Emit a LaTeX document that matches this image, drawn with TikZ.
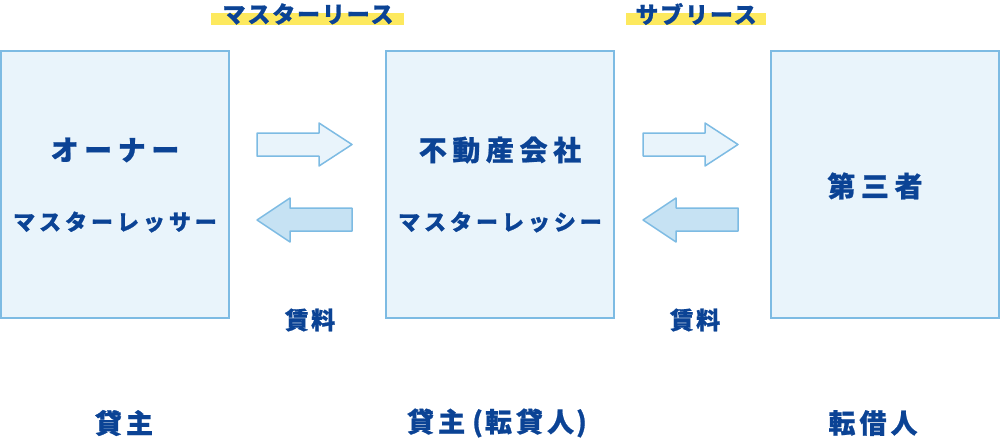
\documentclass[tikz,border=0pt]{standalone}
\usepackage{fontspec}
\setmainfont{Noto Sans CJK JP}
\definecolor{boxline}{HTML}{7DBBE3}
\definecolor{boxfill}{HTML}{E9F4FB}
\definecolor{arrowdark}{HTML}{C6E2F3}
\definecolor{txt}{HTML}{0B4395}
\definecolor{hl}{HTML}{FDE95E}
\begin{document}
\begin{tikzpicture}[x=1pt,y=-1pt,
  party/.style={draw=boxline,line width=1.5pt,fill=boxfill,minimum width=228pt,minimum height=267pt,inner sep=0pt},
  big/.style={text=txt,font=\fontsize{28}{32}\selectfont\bfseries\addfontfeature{LetterSpace=20,FakeBold=0.8}},
  mid/.style={text=txt,font=\fontsize{22}{26}\selectfont\bfseries\addfontfeature{LetterSpace=18,FakeBold=0.8}},
  toplab/.style={text=txt,font=\fontsize{23}{27}\selectfont\bfseries\addfontfeature{LetterSpace=8,FakeBold=0.8}},
  small/.style={text=txt,font=\fontsize{24}{28}\selectfont\bfseries\addfontfeature{LetterSpace=10,FakeBold=0.8}},
  bottom/.style={text=txt,font=\fontsize{27}{31}\selectfont\bfseries\addfontfeature{LetterSpace=15,FakeBold=0.8}},
  arr/.style={draw=boxline,line width=1.5pt,line join=round}
]
\useasboundingbox (0,0) rectangle (1000,440);
% boxes
\node[party] (owner) at (115,184.5) {};
\node[party] (company) at (500,184.5) {};
\node[party] (third) at (885,184.5) {};
% box texts
\node[big] (ownerA) at (115,150) {オーナー};
\node[mid] (ownerB) at (115,222) {マスターレッサー};
\node[big] (compA) at (500,150) {不動産会社};
\node[mid] (compB) at (500,222) {マスターレッシー};
\node[big] (thirdA) at (875,186) {第三者};
% top labels with highlight
\fill[hl] (211,13) rectangle (404,25);
\node[toplab] (ml) at (308,14) {マスターリース};
\fill[hl] (626,13) rectangle (766,25);
\node[toplab] (sl) at (696,14) {サブリース};
% arrows left pair
\draw[arr,fill=boxfill] (257,133) -- (319,133) -- (319,123) -- (352,144.5) -- (319,166) -- (319,156) -- (257,156) -- cycle;
\draw[arr,fill=arrowdark] (352,208) -- (290,208) -- (290,198) -- (257,220) -- (290,242) -- (290,231) -- (352,231) -- cycle;
% arrows right pair
\draw[arr,fill=boxfill] (643,133) -- (705,133) -- (705,123) -- (738,144.5) -- (705,166) -- (705,156) -- (643,156) -- cycle;
\draw[arr,fill=arrowdark] (738,208) -- (676,208) -- (676,198) -- (643,220) -- (676,242) -- (676,231) -- (738,231) -- cycle;
% rent labels
\node[small] (rent1) at (310,320) {賃料};
\node[small] (rent2) at (695,320) {賃料};
% bottom labels
\node[bottom] (l1) at (124,423) {貸主};
\node[bottom] (l2) at (497,423) {貸主\kern7pt(\kern2pt 転貸人\kern2pt)};
\node[bottom] (l3) at (873,423) {転借人};
\end{tikzpicture}
\end{document}
